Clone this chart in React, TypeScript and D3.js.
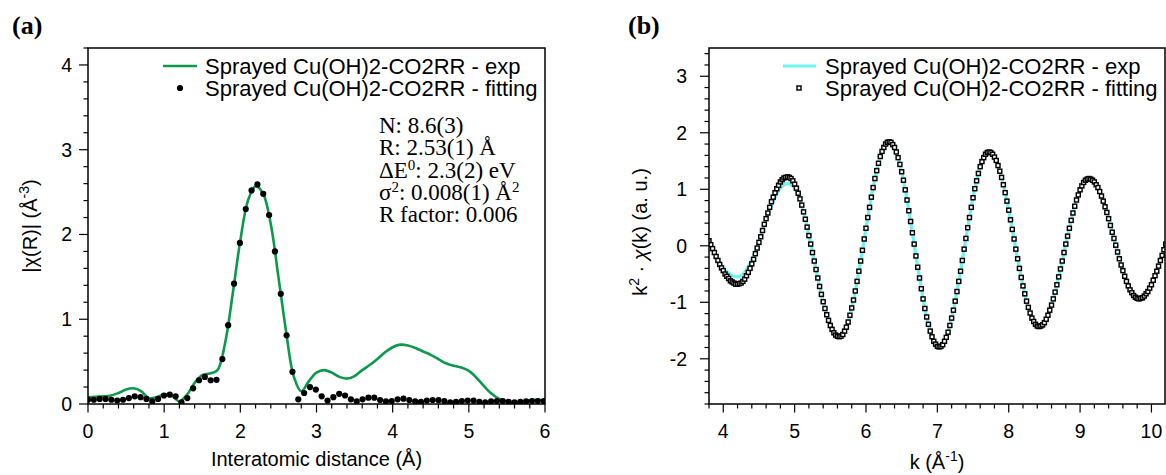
import React from "react";
import * as d3 from "d3";

// (a) |chi(R)|, exp line on a 0.1 A grid, fit dots on the FT grid
const R_STEP_EXP = 0.1;
const expR = [
  0.08, 0.085, 0.09, 0.1, 0.13, 0.17, 0.185, 0.15, 0.07, 0.08,
  0.115, 0.1, 0.03, 0.11, 0.25, 0.34, 0.36, 0.4, 0.72, 1.3,
  1.93, 2.4, 2.57, 2.48, 2.12, 1.5, 0.86, 0.33, 0.15, 0.27,
  0.37, 0.4, 0.37, 0.32, 0.3, 0.33, 0.4, 0.46, 0.53, 0.61,
  0.67, 0.7, 0.69, 0.66, 0.62, 0.58, 0.53, 0.48, 0.45, 0.43,
  0.39, 0.31, 0.21, 0.12, 0.06, 0.03, 0.02, 0.03, 0.045, 0.05,
  0.04,
];
const R_STEP_FIT = 0.0767;
const fitR = [
  0.05, 0.05, 0.06, 0.06, 0.05, 0.04, 0.05, 0.07, 0.09, 0.08,
  0.06, 0.03, 0.06, 0.1, 0.11, 0.09, 0.02, 0.07, 0.185, 0.28,
  0.32, 0.28, 0.285, 0.53, 0.93, 1.42, 1.9, 2.3, 2.52, 2.59,
  2.48, 2.23, 1.8, 1.3, 0.81, 0.38, 0.055, 0.13, 0.2, 0.17,
  0.09, 0.04, 0.08, 0.12, 0.1, 0.055, 0.03, 0.055, 0.075, 0.075,
  0.047, 0.03, 0.035, 0.055, 0.063, 0.047, 0.03, 0.025, 0.04, 0.047,
  0.045, 0.035, 0.02, 0.025, 0.035, 0.04, 0.04, 0.025, 0.02, 0.03,
  0.035, 0.035, 0.025, 0.02, 0.025, 0.03, 0.035, 0.035, 0.035,
];

// (b) k^2 chi(k), both series start at k = 3.8
const K_START = 3.8;
const K_STEP_EXP = 0.05;
const expK = [
  0.09, -0.05, -0.18, -0.3, -0.39, -0.46, -0.51, -0.54, -0.55, -0.53,
  -0.47, -0.37, -0.25, -0.1, 0.07, 0.27, 0.46, 0.63, 0.79, 0.92,
  1.02, 1.08, 1.1, 1.08, 1.01, 0.89, 0.71, 0.47, 0.18, -0.12,
  -0.42, -0.72, -0.99, -1.22, -1.41, -1.54, -1.6, -1.6, -1.51, -1.35,
  -1.1, -0.8, -0.45, -0.08, 0.31, 0.68, 1.03, 1.33, 1.58, 1.74,
  1.83, 1.83, 1.74, 1.56, 1.31, 0.99, 0.62, 0.23, -0.18, -0.57,
  -0.94, -1.26, -1.51, -1.69, -1.8, -1.8, -1.7, -1.53, -1.28, -0.98,
  -0.63, -0.26, 0.13, 0.5, 0.85, 1.15, 1.4, 1.56, 1.65, 1.65,
  1.57, 1.42, 1.21, 0.94, 0.63, 0.29, -0.06, -0.4, -0.71, -0.98,
  -1.19, -1.34, -1.42, -1.42, -1.36, -1.23, -1.05, -0.82, -0.55, -0.27,
  0.03, 0.31, 0.58, 0.81, 0.99, 1.12, 1.18, 1.18, 1.13, 1.03,
  0.88, 0.69, 0.48, 0.24, 0.01, -0.23, -0.44, -0.63, -0.78, -0.88,
  -0.93, -0.93, -0.89, -0.81, -0.69, -0.53, -0.36, -0.17, 0.03,
];
const K_STEP_FIT = 0.025;
const fitK = [
  // 3.800 - 4.200
  0.09, 0.02, -0.05, -0.12, -0.19, -0.26, -0.33, -0.39, -0.44, -0.5,
  -0.54, -0.58, -0.62, -0.64, -0.66, -0.68, -0.68,
  // 4.225 - 4.900
  -0.67, -0.66, -0.63, -0.59, -0.53, -0.47, -0.4, -0.32, -0.24, -0.14,
  -0.04, 0.06, 0.16, 0.27, 0.38, 0.48, 0.58, 0.68, 0.78, 0.86,
  0.94, 1.01, 1.07, 1.13, 1.17, 1.2, 1.21, 1.22,
  // 4.925 - 5.625
  1.21, 1.19, 1.15, 1.09, 1.02, 0.93, 0.83, 0.72, 0.6, 0.47,
  0.33, 0.18, 0.03, -0.12, -0.27, -0.42, -0.57, -0.72, -0.86, -0.99,
  -1.11, -1.22, -1.32, -1.41, -1.48, -1.54, -1.58, -1.6, -1.61,
  // 5.650 - 6.325
  -1.6, -1.57, -1.51, -1.44, -1.35, -1.23, -1.1, -0.96, -0.8, -0.63,
  -0.45, -0.27, -0.08, 0.12, 0.31, 0.5, 0.68, 0.86, 1.03, 1.19,
  1.33, 1.46, 1.58, 1.67, 1.74, 1.8, 1.83, 1.84,
  // 6.350 - 7.025
  1.83, 1.79, 1.74, 1.66, 1.56, 1.44, 1.31, 1.16, 0.99, 0.81,
  0.62, 0.43, 0.23, 0.03, -0.18, -0.38, -0.57, -0.76, -0.94, -1.11,
  -1.26, -1.39, -1.51, -1.61, -1.69, -1.74, -1.78, -1.79,
  // 7.050 - 7.725
  -1.78, -1.75, -1.69, -1.62, -1.53, -1.41, -1.28, -1.14, -0.98, -0.81,
  -0.63, -0.45, -0.26, -0.06, 0.13, 0.32, 0.5, 0.68, 0.85, 1.01,
  1.15, 1.28, 1.4, 1.49, 1.56, 1.62, 1.65, 1.66,
  // 7.750 - 8.425
  1.65, 1.62, 1.57, 1.51, 1.42, 1.32, 1.21, 1.08, 0.94, 0.79,
  0.63, 0.46, 0.29, 0.12, -0.06, -0.23, -0.4, -0.56, -0.71, -0.85,
  -0.98, -1.09, -1.19, -1.28, -1.34, -1.39, -1.42, -1.43,
  // 8.450 - 9.125
  -1.42, -1.4, -1.36, -1.3, -1.23, -1.14, -1.05, -0.94, -0.82, -0.69,
  -0.55, -0.41, -0.27, -0.12, 0.03, 0.17, 0.31, 0.45, 0.58, 0.7,
  0.81, 0.9, 0.99, 1.06, 1.12, 1.16, 1.18, 1.19,
  // 9.150 - 9.825
  1.18, 1.16, 1.13, 1.08, 1.03, 0.96, 0.88, 0.79, 0.69, 0.59,
  0.48, 0.36, 0.24, 0.13, 0.01, -0.11, -0.23, -0.34, -0.44, -0.54,
  -0.63, -0.71, -0.78, -0.83, -0.88, -0.91, -0.93, -0.94,
  // 9.850 - 10.200
  -0.93, -0.92, -0.89, -0.85, -0.81, -0.75, -0.69, -0.61, -0.53, -0.45,
  -0.36, -0.26, -0.17, -0.07, 0.03,
];

const legendLabels = ["Sprayed Cu(OH)2-CO2RR - exp", "Sprayed Cu(OH)2-CO2RR - fitting"];
const xTicksA = [0, 1, 2, 3, 4, 5, 6];
const yTicksA = [0, 1, 2, 3, 4];
const xTicksB = [4, 5, 6, 7, 8, 9, 10];
const yTicksB = [-2, -1, 0, 1, 2, 3];

const SANS = "'Liberation Sans', Arial, sans-serif";
const SERIF = "'Liberation Serif', 'Times New Roman', serif";
const GREEN = "#0b9a4b";
const CYAN = "#6ff2f2";

const xA = d3.scaleLinear().domain([0, 6]).range([88, 545]);
const yA = d3.scaleLinear().domain([0, 4.2]).range([404, 48]);
const xB = d3.scaleLinear().domain([3.8, 10.19]).range([709, 1165]);
const yB = d3.scaleLinear().domain([-2.8, 3.5]).range([404, 48]);

const isMajor = (v) => Math.abs(v - Math.round(v)) < 1e-6;

function Axes({ x, y, xMinor, yMinor, xTicks, yTicks, yLabelX }) {
  const [x0, x1] = x.range();
  const [y0, y1] = y.range();
  return (
    <g>
      {xMinor.map((v, i) => (
        <line key={"xm" + i} x1={x(v)} x2={x(v)} y1={y0} y2={y0 + (isMajor(v) ? 8.5 : 4.5)} stroke="#000" strokeWidth={1.2} />
      ))}
      {yMinor.map((v, i) => (
        <line key={"ym" + i} x1={x0} x2={x0 - (isMajor(v) ? 9 : 4.5)} y1={y(v)} y2={y(v)} stroke="#000" strokeWidth={1.2} />
      ))}
      {xTicks.map((v) => (
        <text key={"xt" + v} x={x(v)} y={438} textAnchor="middle" fontFamily={SANS} fontSize={19.5}>{v}</text>
      ))}
      {yTicks.map((v) => (
        <text key={"yt" + v} x={yLabelX} y={y(v) + 7} textAnchor="end" fontFamily={SANS} fontSize={19.5}>{String(v)}</text>
      ))}
      <rect x={x0} y={y1} width={x1 - x0} height={y0 - y1} fill="none" stroke="#000" strokeWidth={1.5} />
    </g>
  );
}

export default function App() {
  const lineA = d3.line().x((d, i) => xA(i * R_STEP_EXP)).y((d) => yA(d)).curve(d3.curveCatmullRom.alpha(0.5));
  const lineB = d3.line().x((d, i) => xB(K_START + i * K_STEP_EXP)).y((d) => yB(d)).curve(d3.curveCatmullRom.alpha(0.5));

  const minorXA = d3.range(0, 31).map((i) => i * 0.2);
  const minorYA = d3.range(0, 22).map((i) => i * 0.2);
  const minorXB = d3.range(19, 51).map((i) => i * 0.2);
  const minorYB = d3.range(-14, 18).map((i) => i * 0.2);

  return (
    <svg width={1166} height={475} style={{ position: "absolute", left: 0, top: 0, background: "#fff" }}>
      <defs>
        <clipPath id="clipA"><rect x={88} y={48} width={457} height={356} /></clipPath>
        <clipPath id="clipB"><rect x={709} y={48} width={456} height={356} /></clipPath>
      </defs>

      {/* panel (a) */}
      <text x={12} y={34} fontFamily={SERIF} fontWeight="bold" fontSize={26}>(a)</text>
      <g clipPath="url(#clipA)">
        <path d={lineA(expR)} fill="none" stroke={GREEN} strokeWidth={2.6} />
        {fitR.map((v, i) => (
          <circle key={i} cx={xA(i * R_STEP_FIT)} cy={yA(v)} r={3.1} fill="#000" />
        ))}
      </g>
      <Axes x={xA} y={yA} xMinor={minorXA} yMinor={minorYA} xTicks={xTicksA} yTicks={yTicksA} yLabelX={72} />
      <text x={316.5} y={466} textAnchor="middle" fontFamily={SANS} fontSize={20}>Interatomic distance (Å)</text>
      <text transform="translate(37,226) rotate(-90)" textAnchor="middle" fontFamily={SANS} fontSize={20}>
        |χ(R)| (Å<tspan dy={-8} fontSize={14}>-3</tspan><tspan dy={8}>)</tspan>
      </text>
      <line x1={163} x2={197} y1={66} y2={66} stroke={GREEN} strokeWidth={2.6} />
      <circle cx={180} cy={88} r={3.1} fill="#000" />
      <text x={205} y={73.5} fontFamily={SANS} fontSize={22}>{legendLabels[0]}</text>
      <text x={205} y={95.5} fontFamily={SANS} fontSize={22}>{legendLabels[1]}</text>
      <g fontFamily={SERIF} fontSize={23}>
        <text x={379} y={132.5}>N: 8.6(3)</text>
        <text x={379} y={155}>R: 2.53(1) Å</text>
        <text x={379} y={177.5}>ΔE<tspan dy={-8} fontSize={15}>0</tspan><tspan dy={8}>: 2.3(2) eV</tspan></text>
        <text x={379} y={200}>σ<tspan dy={-8} fontSize={15}>2</tspan><tspan dy={8}>: 0.008(1) Å</tspan><tspan dy={-8} fontSize={15}>2</tspan></text>
        <text x={379} y={222}>R factor: 0.006</text>
      </g>

      {/* panel (b) */}
      <text x={628} y={34} fontFamily={SERIF} fontWeight="bold" fontSize={26}>(b)</text>
      <g clipPath="url(#clipB)">
        <path d={lineB(expK)} fill="none" stroke={CYAN} strokeWidth={3.2} />
        {fitK.map((v, i) => (
          <rect key={i} x={xB(K_START + i * K_STEP_FIT) - 2} y={yB(v) - 2} width={4} height={4} fill="#fff" stroke="#000" strokeWidth={1.45} />
        ))}
      </g>
      <Axes x={xB} y={yB} xMinor={minorXB} yMinor={minorYB} xTicks={xTicksB} yTicks={yTicksB} yLabelX={687} />
      <text x={937} y={469} textAnchor="middle" fontFamily={SANS} fontSize={20}>
        k (Å<tspan dy={-8} fontSize={14}>-1</tspan><tspan dy={8}>)</tspan>
      </text>
      <text transform="translate(647,232) rotate(-90)" textAnchor="middle" fontFamily={SANS} fontSize={20}>
        k<tspan dy={-8} fontSize={14}>2</tspan><tspan dy={8}> · </tspan><tspan fontStyle="italic">χ</tspan>(k) (a. u.)
      </text>
      <line x1={783} x2={816} y1={66} y2={66} stroke={CYAN} strokeWidth={3.2} />
      <rect x={797} y={86} width={4} height={4} fill="#fff" stroke="#000" strokeWidth={1.45} />
      <text x={825} y={73.5} fontFamily={SANS} fontSize={22}>{legendLabels[0]}</text>
      <text x={825} y={95.5} fontFamily={SANS} fontSize={22}>{legendLabels[1]}</text>
    </svg>
  );
}
